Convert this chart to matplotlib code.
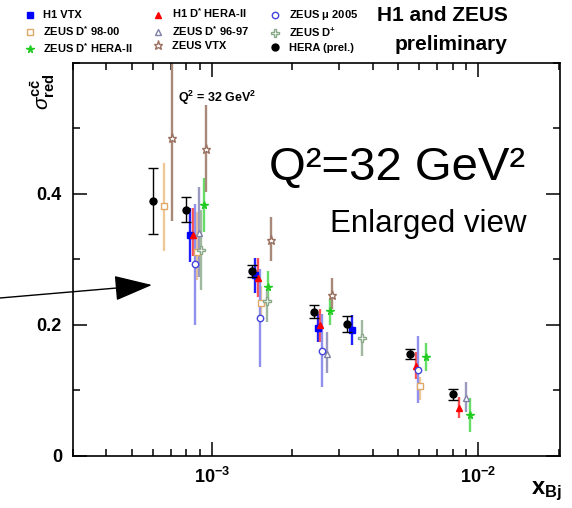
import matplotlib
matplotlib.use("Agg")
import matplotlib.pyplot as plt
from matplotlib.ticker import LogLocator, NullFormatter, MultipleLocator, FixedLocator

plt.rcParams['font.family'] = ['Liberation Sans', 'DejaVu Sans']
plt.rcParams['mathtext.fontset'] = 'custom'
plt.rcParams['mathtext.rm'] = 'Liberation Sans'
plt.rcParams['mathtext.bf'] = 'Liberation Sans:bold'
plt.rcParams['mathtext.it'] = 'Liberation Sans:italic'

# data: x, y, lower edge, upper edge of the error bar
h1vtx_x = [8.25e-4, 1.446e-3, 2.49e-3, 3.34e-3]
h1vtx_y = [0.337, 0.277, 0.196, 0.192]
h1vtx_lo = [0.296, 0.249, 0.174, 0.169]
h1vtx_hi = [0.379, 0.302, 0.217, 0.215]

h1dst_x = [8.44e-4, 1.48e-3, 2.54e-3, 5.82e-3, 8.46e-3]
h1dst_y = [0.337, 0.271, 0.200, 0.137, 0.074]
h1dst_lo = [0.306, 0.242, 0.174, 0.117, 0.058]
h1dst_hi = [0.379, 0.302, 0.225, 0.158, 0.090]

zmu_x = [8.61e-4, 1.51e-3, 2.59e-3, 5.93e-3]
zmu_y = [0.293, 0.211, 0.160, 0.131]
zmu_lo = [0.200, 0.136, 0.106, 0.081]
zmu_hi = [0.385, 0.286, 0.217, 0.183]

zd98_x = [6.6e-4, 8.74e-4, 1.53e-3, 6.02e-3]
zd98_y = [0.381, 0.311, 0.233, 0.107]
zd98_lo = [0.313, 0.268, 0.210, 0.086]
zd98_hi = [0.447, 0.372, 0.260, 0.121]

zd96_x = [8.94e-4, 2.69e-3, 8.96e-3]
zd96_y = [0.341, 0.156, 0.089]
zd96_lo = [0.273, 0.126, 0.0675]
zd96_hi = [0.410, 0.189, 0.113]

zdp_x = [9.1e-4, 1.6e-3, 3.64e-3]
zdp_y = [0.314, 0.236, 0.180]
zdp_lo = [0.253, 0.205, 0.152]
zdp_hi = [0.375, 0.255, 0.208]

zdh2_x = [9.3e-4, 1.62e-3, 2.78e-3, 6.38e-3, 9.27e-3]
zdh2_y = [0.383, 0.258, 0.222, 0.151, 0.0625]
zdh2_lo = [0.342, 0.238, 0.200, 0.130, 0.037]
zdh2_hi = [0.425, 0.283, 0.240, 0.172, 0.088]

zvtx_x = [7.08e-4, 9.44e-4, 1.656e-3, 2.83e-3]
zvtx_y = [0.485, 0.468, 0.330, 0.246]
zvtx_lo = [0.358, 0.403, 0.297, 0.225]
zvtx_hi = [0.620, 0.536, 0.365, 0.271]

hera_x = [5.97e-4, 8.0e-4, 1.406e-3, 2.41e-3, 3.2e-3, 5.53e-3, 7.99e-3]
hera_y = [0.389, 0.376, 0.282, 0.220, 0.202, 0.156, 0.094]
hera_err = [0.050, 0.019, 0.009, 0.010, 0.012, 0.008, 0.009]

fig = plt.figure(figsize=(5.72, 5.08), dpi=100)
ax = fig.add_axes([0.1276, 0.1024, 0.851, 0.7736])

# (x, y, lo, hi, marker, marker colour, face, bar colour, size, label)
sets = [
    (h1vtx_x, h1vtx_y, h1vtx_lo, h1vtx_hi, 's', '#0000ff', '#0000ff', '#2020ff', 4.3, 'H1 VTX'),
    (zd98_x, zd98_y, zd98_lo, zd98_hi, 's', '#e0a868', 'white', '#f0c898', 4.5, r'ZEUS D$^{\mathbf{*}}$ 98-00'),
    (zdh2_x, zdh2_y, zdh2_lo, zdh2_hi, '*', '#22cc22', '#22cc22', '#66dd66', 5.5, r'ZEUS D$^{\mathbf{*}}$ HERA-II'),
    (h1dst_x, h1dst_y, h1dst_lo, h1dst_hi, '^', '#ff0000', '#ff0000', '#ff5050', 4.5, r'H1 D$^{\mathbf{*}}$ HERA-II'),
    (zd96_x, zd96_y, zd96_lo, zd96_hi, '^', '#8080a8', 'white', '#9a9ac0', 4.8, r'ZEUS D$^{\mathbf{*}}$ 96-97'),
    (zvtx_x, zvtx_y, zvtx_lo, zvtx_hi, '*', '#9a7060', 'white', '#a88878', 6.5, 'ZEUS VTX'),
    (zmu_x, zmu_y, zmu_lo, zmu_hi, 'o', '#4444dd', 'white', '#9090ee', 4.6, r'ZEUS $\mathbf{\mu}$ 2005'),
    (zdp_x, zdp_y, zdp_lo, zdp_hi, 'P', '#88a888', 'white', '#a0b8a0', 5.2, r'ZEUS D$^{\mathbf{+}}$'),
]

handles = []
for x, y, lo, hi, m, mc, fc, bc, ms, lab in sets:
    yerr = [[v - l for v, l in zip(y, lo)], [h - v for v, h in zip(y, hi)]]
    ax.errorbar(x, y, yerr=yerr, fmt='none', ecolor=bc, elinewidth=1.7, zorder=2)
    h, = ax.plot(x, y, linestyle='none', marker=m, markersize=ms, color=mc,
                 markerfacecolor=fc, markeredgewidth=1.0, label=lab, zorder=3)
    handles.append(h)

ax.errorbar(hera_x, hera_y, yerr=hera_err, fmt='none', ecolor='black',
            elinewidth=1.0, capsize=3.5, capthick=1.0, zorder=4)
hh, = ax.plot(hera_x, hera_y, linestyle='none', marker='o', markersize=5,
              color='black', label='HERA (prel.)', zorder=5)
handles.append(hh)

ax.set_xscale('log')
ax.set_xlim(3e-4, 2.02e-2)
ax.set_ylim(0, 0.6)
ax.yaxis.set_major_locator(FixedLocator([0, 0.2, 0.4]))
ax.yaxis.set_minor_locator(MultipleLocator(0.1))
ax.set_yticklabels(['0', '0.2', '0.4'])
ax.xaxis.set_major_locator(FixedLocator([1e-3, 1e-2]))
ax.xaxis.set_minor_locator(LogLocator(base=10, subs=range(2, 10)))
ax.xaxis.set_minor_formatter(NullFormatter())
ax.set_xticklabels([r'$\mathbf{10^{-3}}$', r'$\mathbf{10^{-2}}$'])

ax.tick_params(which='both', direction='in', top=True, right=True, width=1.1)
ax.tick_params(which='major', length=10, labelsize=13, pad=8)
ax.tick_params(which='minor', length=5)
for lab in ax.get_yticklabels():
    lab.set_fontweight('bold')
for s in ax.spines.values():
    s.set_linewidth(1.2)

fig.text(0.075, 0.82, r'$\sigma^{\mathbf{c\bar{c}}}_{\mathbf{red}}$', rotation=90,
         ha='center', va='center', fontsize=15)
fig.text(0.955, 0.032, r'$\mathbf{x_{Bj}}$', ha='center', va='center', fontsize=17)

ax.text(0.216, 0.911, r'Q$^{\mathbf{2}}$ = 32 GeV$^{\mathbf{2}}$', transform=ax.transAxes,
        fontsize=9, fontweight='bold', va='center')
ax.text(0.928, 0.733, 'Q²=32 GeV²', transform=ax.transAxes, fontsize=34,
        ha='right', va='center')
ax.text(0.932, 0.590, 'Enlarged view', transform=ax.transAxes, fontsize=22.5,
        ha='right', va='center')

fig.text(0.888, 0.97, 'H1 and ZEUS', ha='right', va='center', fontsize=15, fontweight='bold')
fig.text(0.888, 0.913, 'preliminary', ha='right', va='center', fontsize=15, fontweight='bold')

fig.legend(handles=handles, loc='upper left', bbox_to_anchor=(0.042, 0.987), ncol=3,
           frameon=False, prop={'size': 8, 'weight': 'bold'}, handlelength=1.0,
           handletextpad=0.75, columnspacing=1.75, labelspacing=0.32, borderpad=0,
           borderaxespad=0)

ax.annotate('', xy=(0.2657, 0.439), xytext=(0.0, 0.4134), xycoords='figure fraction',
            textcoords='figure fraction', annotation_clip=False,
            arrowprops=dict(arrowstyle='-|>,head_length=2.4,head_width=0.8',
                            lw=1.0, color='black', shrinkA=0, shrinkB=0))

fig.savefig('out.png', dpi=100)
